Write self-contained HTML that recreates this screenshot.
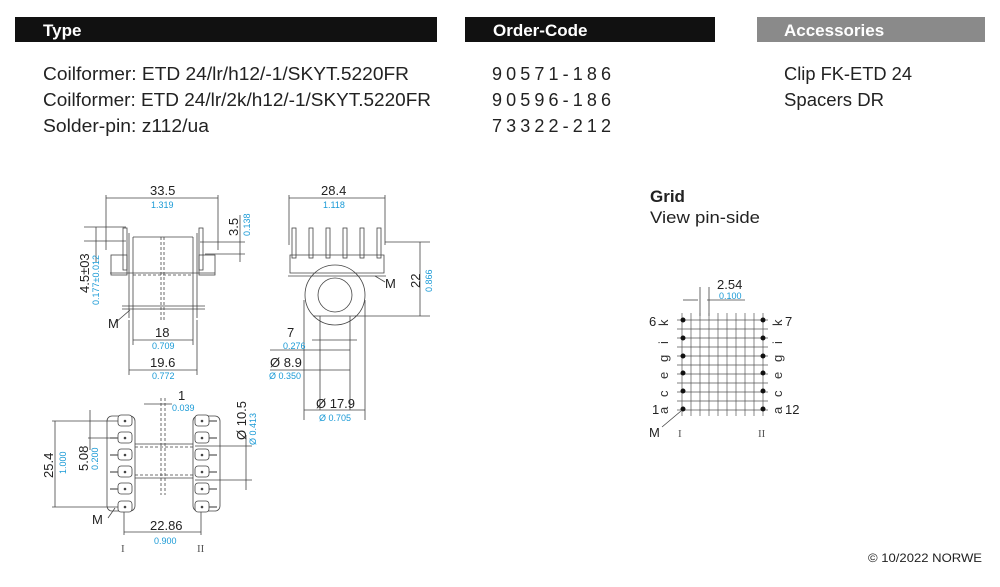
<!DOCTYPE html>
<html><head><meta charset="utf-8"><style>
body{margin:0;background:#fff;width:1000px;height:582px;overflow:hidden;font-family:"Liberation Sans",sans-serif}
</style></head><body>
<svg width="1000" height="582" viewBox="0 0 1000 582" xmlns="http://www.w3.org/2000/svg" font-family="Liberation Sans, sans-serif">
<rect x="15" y="17" width="422" height="25" fill="#111"/>
<rect x="465" y="17" width="250" height="25" fill="#111"/>
<rect x="757" y="17" width="228" height="25" fill="#8a8a8a"/>
<g fill="#fff" font-size="17" font-weight="bold">
<text x="43" y="36">Type</text><text x="493" y="36">Order-Code</text><text x="784" y="36">Accessories</text></g>
<g font-size="18" fill="#222">
<text x="43" y="80" textLength="366" lengthAdjust="spacingAndGlyphs">Coilformer:  ETD 24/lr/h12/-1/SKYT.5220FR</text>
<text x="43" y="106" textLength="388" lengthAdjust="spacingAndGlyphs">Coilformer:  ETD 24/lr/2k/h12/-1/SKYT.5220FR</text>
<text x="43" y="132" textLength="166" lengthAdjust="spacingAndGlyphs">Solder-pin:  z112/ua</text>
<text x="492" y="80" textLength="119">90571-186</text>
<text x="492" y="106" textLength="119">90596-186</text>
<text x="492" y="132" textLength="119">73322-212</text>
<text x="784" y="80" textLength="128" lengthAdjust="spacingAndGlyphs">Clip FK-ETD 24</text>
<text x="784" y="106" textLength="100" lengthAdjust="spacingAndGlyphs">Spacers DR</text>
<text x="650" y="202" font-weight="bold" font-size="17">Grid</text>
<text x="650" y="223" font-size="17" textLength="110" lengthAdjust="spacingAndGlyphs">View pin-side</text>
</g>
<text x="868" y="562" font-size="12" fill="#222" textLength="114" lengthAdjust="spacingAndGlyphs">© 10/2022 NORWE</text>

<g stroke="#444" stroke-width="0.8" fill="none">
<line x1="106" y1="195" x2="106" y2="250"/><line x1="218" y1="195" x2="218" y2="250"/><line x1="106" y1="198" x2="218" y2="198"/>
<rect x="123" y="228" width="4" height="42"/><rect x="199" y="228" width="4" height="42"/>
<rect x="111" y="255" width="16" height="20"/><rect x="199" y="255" width="16" height="20"/>
<line x1="110" y1="273" x2="215" y2="273"/>
<line x1="133" y1="237" x2="193" y2="237"/><line x1="133" y1="237" x2="133" y2="320"/><line x1="193" y1="237" x2="193" y2="320"/>
<line x1="129" y1="233" x2="129" y2="318"/><line x1="197" y1="233" x2="197" y2="318"/>
<line x1="133" y1="275" x2="193" y2="275" stroke-dasharray="3 2"/>
<line x1="122" y1="306" x2="205" y2="306"/><line x1="122" y1="309" x2="205" y2="309"/>
<line x1="161" y1="237" x2="161" y2="320" stroke-dasharray="3 2"/><line x1="164" y1="237" x2="164" y2="320" stroke-dasharray="3 2"/>
<line x1="133" y1="320" x2="133" y2="345"/><line x1="193" y1="320" x2="193" y2="345"/><line x1="133" y1="340" x2="193" y2="340"/>
<line x1="129" y1="320" x2="129" y2="375"/><line x1="197" y1="320" x2="197" y2="375"/><line x1="129" y1="370" x2="197" y2="370"/>
<line x1="84" y1="227" x2="126" y2="227"/><line x1="84" y1="241" x2="126" y2="241"/><line x1="96" y1="227" x2="96" y2="262"/>
<line x1="200" y1="242" x2="245" y2="242"/><line x1="205" y1="254" x2="245" y2="254"/><line x1="240" y1="215" x2="240" y2="262"/>
<line x1="115" y1="323" x2="130" y2="310"/>
<line x1="289" y1="195" x2="289" y2="245"/><line x1="385" y1="195" x2="385" y2="245"/><line x1="289" y1="198" x2="385" y2="198"/>
<g><rect x="292" y="228" width="4" height="30"/><rect x="309" y="228" width="4" height="30"/><rect x="326" y="228" width="4" height="30"/><rect x="343" y="228" width="4" height="30"/><rect x="360" y="228" width="4" height="30"/><rect x="377" y="228" width="4" height="30"/></g>
<path d="M290 255 H384 V273 H290 Z"/><line x1="288" y1="276" x2="386" y2="276"/>
<circle cx="335" cy="295" r="30"/><circle cx="335" cy="295" r="17"/>
<line x1="313" y1="316" x2="357" y2="316"/><line x1="320" y1="316" x2="320" y2="410"/><line x1="350" y1="316" x2="350" y2="410"/>
<line x1="304" y1="300" x2="304" y2="420"/><line x1="365" y1="300" x2="365" y2="420"/>
<line x1="312" y1="340" x2="357" y2="340"/><line x1="270" y1="350" x2="350" y2="350"/><line x1="270" y1="370" x2="350" y2="370"/><line x1="304" y1="410" x2="365" y2="410"/>
<line x1="385" y1="242" x2="430" y2="242"/><line x1="355" y1="316" x2="430" y2="316"/><line x1="420" y1="242" x2="420" y2="316"/>
<line x1="375" y1="276" x2="385" y2="282"/>
<rect x="107" y="416" width="28" height="95" rx="5"/><rect x="193" y="416" width="27" height="95" rx="5"/>
<line x1="135" y1="444" x2="193" y2="444"/><line x1="135" y1="478" x2="193" y2="478"/>
<line x1="135" y1="447" x2="193" y2="447" stroke-dasharray="3 2"/><line x1="135" y1="475" x2="193" y2="475" stroke-dasharray="3 2"/>
<line x1="161" y1="398" x2="161" y2="495" stroke-dasharray="3 2"/><line x1="165" y1="398" x2="165" y2="495" stroke-dasharray="3 2"/>
<line x1="144" y1="404" x2="172" y2="404"/>
<line x1="52" y1="421" x2="120" y2="421"/><line x1="52" y1="507" x2="120" y2="507"/><line x1="55" y1="421" x2="55" y2="507"/>
<line x1="88" y1="438" x2="120" y2="438"/><line x1="90" y1="410" x2="90" y2="450"/>
<line x1="195" y1="446" x2="252" y2="446"/><line x1="195" y1="480" x2="252" y2="480"/><line x1="246" y1="435" x2="246" y2="490"/>
<line x1="124" y1="510" x2="124" y2="535"/><line x1="201" y1="510" x2="201" y2="535"/><line x1="124" y1="532" x2="201" y2="532"/>
<line x1="108" y1="518" x2="115" y2="508"/>
<line x1="683" y1="300" x2="698" y2="300"/><line x1="707" y1="300" x2="745" y2="300"/>
<line x1="700" y1="287" x2="700" y2="316"/><line x1="709" y1="287" x2="709" y2="316"/>
<line x1="662" y1="427" x2="681" y2="411"/>
</g>
<g stroke="#444" stroke-width="0.8" fill="#fff">
<rect x="118" y="415" width="14" height="11" rx="3"/><rect x="118" y="432" width="14" height="11" rx="3"/><rect x="118" y="449" width="14" height="11" rx="3"/><rect x="118" y="466" width="14" height="11" rx="3"/><rect x="118" y="483" width="14" height="11" rx="3"/><rect x="118" y="501" width="14" height="11" rx="3"/>
<rect x="195" y="415" width="14" height="11" rx="3"/><rect x="195" y="432" width="14" height="11" rx="3"/><rect x="195" y="449" width="14" height="11" rx="3"/><rect x="195" y="466" width="14" height="11" rx="3"/><rect x="195" y="483" width="14" height="11" rx="3"/><rect x="195" y="501" width="14" height="11" rx="3"/>
</g>
<g stroke="#555" stroke-width="1.2">
<line x1="110" y1="438" x2="118" y2="438"/><line x1="110" y1="455" x2="118" y2="455"/><line x1="110" y1="472" x2="118" y2="472"/><line x1="110" y1="489" x2="118" y2="489"/>
<line x1="209" y1="421" x2="217" y2="421"/><line x1="209" y1="438" x2="217" y2="438"/><line x1="209" y1="455" x2="217" y2="455"/><line x1="209" y1="472" x2="217" y2="472"/><line x1="209" y1="489" x2="217" y2="489"/><line x1="209" y1="507" x2="217" y2="507"/>
</g>
<g fill="#444">
<circle cx="125" cy="421" r="1.3"/><circle cx="125" cy="438" r="1.3"/><circle cx="125" cy="455" r="1.3"/><circle cx="125" cy="472" r="1.3"/><circle cx="125" cy="489" r="1.3"/><circle cx="125" cy="507" r="1.3"/>
<circle cx="202" cy="421" r="1.3"/><circle cx="202" cy="438" r="1.3"/><circle cx="202" cy="455" r="1.3"/><circle cx="202" cy="472" r="1.3"/><circle cx="202" cy="489" r="1.3"/><circle cx="202" cy="507" r="1.3"/>
</g>
<g stroke="#555" stroke-width="0.7">
<line x1="682" y1="313" x2="682" y2="416"/><line x1="691" y1="313" x2="691" y2="416"/><line x1="700" y1="313" x2="700" y2="416"/><line x1="709" y1="313" x2="709" y2="416"/><line x1="718" y1="313" x2="718" y2="416"/><line x1="727" y1="313" x2="727" y2="416"/><line x1="736" y1="313" x2="736" y2="416"/><line x1="745" y1="313" x2="745" y2="416"/><line x1="754" y1="313" x2="754" y2="416"/><line x1="763" y1="313" x2="763" y2="416"/>
<line x1="677" y1="320" x2="768" y2="320"/><line x1="677" y1="329" x2="768" y2="329"/><line x1="677" y1="338" x2="768" y2="338"/><line x1="677" y1="347" x2="768" y2="347"/><line x1="677" y1="356" x2="768" y2="356"/><line x1="677" y1="365" x2="768" y2="365"/><line x1="677" y1="374" x2="768" y2="374"/><line x1="677" y1="383" x2="768" y2="383"/><line x1="677" y1="392" x2="768" y2="392"/><line x1="677" y1="401" x2="768" y2="401"/><line x1="677" y1="410" x2="768" y2="410"/>
</g>
<g fill="#111">
<circle cx="683" cy="320" r="2.5"/><circle cx="683" cy="338" r="2.5"/><circle cx="683" cy="356" r="2.5"/><circle cx="683" cy="373" r="2.5"/><circle cx="683" cy="391" r="2.5"/><circle cx="683" cy="409" r="2.5"/>
<circle cx="763" cy="320" r="2.5"/><circle cx="763" cy="338" r="2.5"/><circle cx="763" cy="356" r="2.5"/><circle cx="763" cy="373" r="2.5"/><circle cx="763" cy="391" r="2.5"/><circle cx="763" cy="409" r="2.5"/>
</g>
<g font-size="13" fill="#222">
<text x="150" y="195">33.5</text><text x="321" y="195">28.4</text>
<text x="155" y="337">18</text><text x="150" y="367">19.6</text>
<text x="287" y="337">7</text><text x="270" y="367">Ø 8.9</text><text x="316" y="408">Ø 17.9</text>
<text x="178" y="400">1</text><text x="150" y="530">22.86</text>
<text x="717" y="289">2.54</text>
<text x="649" y="326">6</text><text x="785" y="326">7</text><text x="652" y="414">1</text><text x="785" y="414">12</text>
<text x="649" y="437">M</text><text x="108" y="328">M</text><text x="385" y="288">M</text><text x="92" y="524">M</text>
<text transform="translate(238,236) rotate(-90)">3.5</text>
<text transform="translate(89,293) rotate(-90)">4.5±03</text>
<text transform="translate(420,288) rotate(-90)">22</text>
<text transform="translate(246,440) rotate(-90)">Ø 10.5</text>
<text transform="translate(53,478) rotate(-90)">25.4</text>
<text transform="translate(88,471) rotate(-90)">5.08</text>
</g>
<g font-size="13" fill="#333">
<text transform="translate(668,326) rotate(-90)">k</text><text transform="translate(668,344) rotate(-90)">i</text><text transform="translate(668,362) rotate(-90)">g</text><text transform="translate(668,379) rotate(-90)">e</text><text transform="translate(668,397) rotate(-90)">c</text><text transform="translate(668,414) rotate(-90)">a</text>
<text transform="translate(782,326) rotate(-90)">k</text><text transform="translate(782,344) rotate(-90)">i</text><text transform="translate(782,362) rotate(-90)">g</text><text transform="translate(782,379) rotate(-90)">e</text><text transform="translate(782,397) rotate(-90)">c</text><text transform="translate(782,414) rotate(-90)">a</text>
</g>
<g font-size="11" fill="#555" font-family="Liberation Serif, serif">
<text x="678" y="437">I</text><text x="758" y="437">II</text><text x="121" y="552">I</text><text x="197" y="552">II</text>
</g>
<g font-size="9" fill="#1a9ad6">
<text x="151" y="208">1.319</text><text x="323" y="208">1.118</text>
<text x="152" y="349">0.709</text><text x="152" y="379">0.772</text>
<text x="283" y="349">0.276</text><text x="269" y="379">Ø 0.350</text><text x="319" y="421">Ø 0.705</text>
<text x="172" y="411">0.039</text><text x="154" y="544">0.900</text><text x="719" y="299">0.100</text>
<text transform="translate(250,236) rotate(-90)">0.138</text>
<text transform="translate(99,305) rotate(-90)">0.177±0.012</text>
<text transform="translate(432,292) rotate(-90)">0.866</text>
<text transform="translate(256,445) rotate(-90)">Ø 0.413</text>
<text transform="translate(66,474) rotate(-90)">1.000</text>
<text transform="translate(98,470) rotate(-90)">0.200</text>
</g>
</svg>
</body></html>
